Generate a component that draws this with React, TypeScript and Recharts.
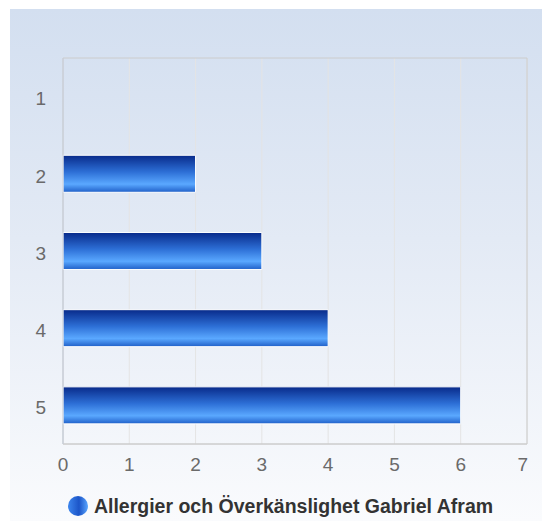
import React from "react";
import { BarChart, Bar, XAxis, YAxis, CartesianGrid, Legend, ReferenceArea } from "recharts";

const categories = ["1", "2", "3", "4", "5"];
const values = [0, 2, 3, 4, 6];
const xTicks = [0, 1, 2, 3, 4, 5, 6, 7];
const seriesName = "Allergier och Överkänslighet Gabriel Afram";

const data = categories.map((c, i) => ({ name: c, value: values[i] }));

const FONT = "'Liberation Sans', Arial, Helvetica, sans-serif";
const TICK_SIZE = 19;

// last tick label sits inside the plot edge, like the original
function XTick(props: any) {
  const { x, y, payload } = props;
  const last = payload.value === xTicks[xTicks.length - 1];
  return (
    <text
      x={last ? x + 1 : x}
      y={y}
      dy="0.71em"
      textAnchor={last ? "end" : "middle"}
      fontSize={TICK_SIZE}
      fontFamily={FONT}
      fill="#6a6a6a"
    >
      {payload.value}
    </text>
  );
}

function LegendContent() {
  return (
    <div
      style={{
        display: "flex",
        alignItems: "center",
        justifyContent: "center",
        fontFamily: FONT,
        fontWeight: "bold",
        fontSize: 19.5,
        color: "#333",
        height: 30,
        paddingLeft: 24,
      }}
    >
      <svg width={20} height={20} style={{ marginRight: 6 }}>
        <defs>
          <linearGradient id="legendGrad" x1="0" y1="0" x2="1" y2="0">
            <stop offset="0%" stopColor="#3d86ee" />
            <stop offset="55%" stopColor="#1c55c8" />
            <stop offset="100%" stopColor="#5aa6ff" />
          </linearGradient>
        </defs>
        <circle cx={10} cy={10} r={10} fill="url(#legendGrad)" />
      </svg>
      <span>{seriesName}</span>
    </div>
  );
}

export default function App() {
  return (
    <div style={{ position: "absolute", left: 0, top: 0, width: 542, height: 521, background: "#fff" }}>
      <div
        style={{
          position: "absolute",
          left: 10,
          top: 9,
          width: 532,
          height: 512,
          background: "linear-gradient(to bottom, #d3dff0 0%, #e3eaf5 45%, #fafbfd 100%)",
        }}
      >
        <BarChart
          width={532}
          height={512}
          data={data}
          layout="vertical"
          barCategoryGap="26%"
          margin={{ top: 49, right: 15, left: 0, bottom: 0 }}
        >
          <defs>
            <linearGradient id="barGrad" x1="0" y1="0" x2="0" y2="1">
              <stop offset="0%" stopColor="#082a8a" />
              <stop offset="45%" stopColor="#2d6fd6" />
              <stop offset="78%" stopColor="#5aa8ff" />
              <stop offset="100%" stopColor="#1f5fc8" />
            </linearGradient>
          </defs>
          <CartesianGrid horizontal={false} stroke="#e4e4e4" />
          <ReferenceArea x1={0} x2={7} fill="none" stroke="#cccccc" strokeWidth={1} ifOverflow="visible" />
          <XAxis
            type="number"
            domain={[0, 7]}
            ticks={xTicks}
            tickLine={false}
            axisLine={{ stroke: "#cccccc" }}
            tickMargin={8}
            height={47}
            tick={<XTick />}
            interval={0}
          />
          <YAxis
            type="category"
            dataKey="name"
            width={53}
            tickLine={false}
            axisLine={{ stroke: "#c5cedd" }}
            tickMargin={11}
            tick={{ fontSize: TICK_SIZE, fill: "#6a6a6a", fontFamily: FONT, dy: 2 }}
          />
          <Bar
            dataKey="value"
            name={seriesName}
            fill="url(#barGrad)"
            stroke="#ffffff"
            strokeWidth={1}
            isAnimationActive={false}
          />
          <Legend verticalAlign="bottom" height={30} content={<LegendContent />} />
        </BarChart>
      </div>
    </div>
  );
}
